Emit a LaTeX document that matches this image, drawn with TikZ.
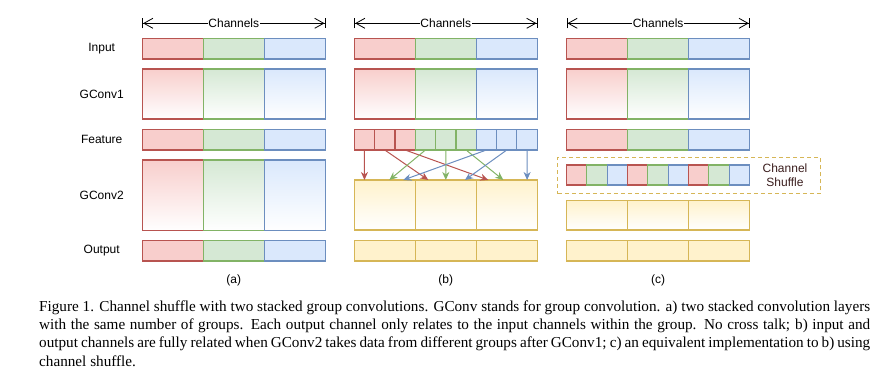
\documentclass[tikz,border=0pt]{standalone}
\usepackage{fontspec}
\setmainfont{Liberation Serif}
\setsansfont{Liberation Sans}
\usepackage{tikz}
\usetikzlibrary{positioning,arrows.meta}

\definecolor{redfill}{HTML}{F8CECC}
\definecolor{redline}{HTML}{B85450}
\definecolor{greenfill}{HTML}{D5E8D4}
\definecolor{greenline}{HTML}{82B366}
\definecolor{bluefill}{HTML}{DAE8FC}
\definecolor{blueline}{HTML}{6C8EBF}
\definecolor{yellowfill}{HTML}{FFF2CC}
\definecolor{yellowline}{HTML}{D6B656}
\definecolor{shuftext}{HTML}{3B1E1E}

\begin{document}
\begin{tikzpicture}[
    x=1pt, y=-1pt,
    cell/.style={draw=#1line, fill=#1fill, anchor=north west, minimum width=61,
        inner sep=0, outer sep=0, line width=1.1pt},
    gcell/.style={cell=#1, top color=#1fill, bottom color=white},
    dim/.style={{Bar[width=10pt]Straight Barb[length=9pt,width=10pt]}-{Straight Barb[length=9pt,width=10pt]Bar[width=10pt]}, line width=0.8pt},
    chan/.style={fill=white, inner sep=0.5pt, font=\sffamily\fontsize{12}{14}\selectfont},
    rowlab/.style={font=\sffamily\fontsize{12}{14}\selectfont},
    sub/.style={font=\sffamily\fontsize{12}{14}\selectfont},
    link/.style={draw=#1line, line width=1pt, -{Stealth[length=8pt,width=7pt,inset=2.5pt]}},
    shufbox/.style={draw=yellowline, dash pattern=on 4pt off 3pt, line width=1pt, anchor=north west,
        inner sep=0, minimum width=262.7, minimum height=36},
    shuftxt/.style={text=shuftext, align=center, font=\sffamily\fontsize{12}{14.7}\selectfont}
]
\useasboundingbox (0,0) rectangle (878,382);

% row labels
\node[rowlab] (linput) at (101.7,48.6) {Input};
\node[rowlab] (lgc1) at (101.7,94) {GConv1};
\node[rowlab] (lfeat) at (101.7,139.6) {Feature};
\node[rowlab] (lgc2) at (101.7,195.3) {GConv2};
\node[rowlab] (lout) at (101.7,250.8) {Output};

% (a) two stacked group convolutions
\begin{scope}[shift={(142.3,0)}]
    \coordinate (al) at (0,23.3); \coordinate (ar) at (183,23.3);
    \draw[dim] (al) -- node[chan] (achan) {Channels} (ar);
    \foreach \c [count=\i] in {red,green,blue} {
        \node[cell=\c, minimum height=20.7] (ain\i) at ({61*(\i-1)},38.3) {};
        \node[gcell=\c, minimum height=50] (ag1\i) at ({61*(\i-1)},69) {};
        \node[cell=\c, minimum height=20.7] (af\i) at ({61*(\i-1)},129.3) {};
        \node[gcell=\c, minimum height=70.7] (ag2\i) at ({61*(\i-1)},160) {};
        \node[cell=\c, minimum height=20.3] (aout\i) at ({61*(\i-1)},240.7) {};
    }
    \node[sub] (acap) at (91.5,280.5) {(a)};
\end{scope}

% (b) GConv2 takes data from different groups
\begin{scope}[shift={(354.3,0)}]
    \coordinate (bl) at (0,23.3); \coordinate (br) at (183,23.3);
    \draw[dim] (bl) -- node[chan] (bchan) {Channels} (br);
    \foreach \c [count=\i] in {red,green,blue} {
        \node[cell=\c, minimum height=20.7] (bin\i) at ({61*(\i-1)},38.3) {};
        \node[gcell=\c, minimum height=50] (bg1\i) at ({61*(\i-1)},69) {};
        \node[gcell=yellow, minimum height=50] (bg2\i) at ({61*(\i-1)},180) {};
        \node[cell=yellow, minimum height=20.3] (bout\i) at ({61*(\i-1)},240.7) {};
    }
    \foreach \c [count=\i] in {red,red,red,green,green,green,blue,blue,blue}
        \node[cell=\c, minimum width=20.33, minimum height=20.7] (bf\i) at ({20.33*(\i-1)},129.3) {};
    % every group feeds every GConv2 group
    \foreach \s/\t/\c in {1/10.17/red, 2/74/red, 3/134/red, 4/35/green, 5/91.5/green,
                          6/149/green, 7/49/blue, 8/110.7/blue, 9/172.8/blue} {
        \coordinate (bt\s) at (\t,180);
        \draw[link=\c] (bf\s.south) -- (bt\s);
    }
    \node[sub] (bcap) at (91.5,280.5) {(b)};
\end{scope}

% (c) channel shuffle
\begin{scope}[shift={(566.6,0)}]
    \coordinate (cl) at (0,23.3); \coordinate (cr) at (183,23.3);
    \draw[dim] (cl) -- node[chan] (cchan) {Channels} (cr);
    \foreach \c [count=\i] in {red,green,blue} {
        \node[cell=\c, minimum height=20.7] (cin\i) at ({61*(\i-1)},38.3) {};
        \node[gcell=\c, minimum height=50] (cg1\i) at ({61*(\i-1)},69) {};
        \node[cell=\c, minimum height=20.7] (cf\i) at ({61*(\i-1)},129.3) {};
        \node[gcell=yellow, minimum height=29.3] (cg2\i) at ({61*(\i-1)},200.7) {};
        \node[cell=yellow, minimum height=20.3] (cout\i) at ({61*(\i-1)},240.7) {};
    }
    \node[shufbox] (cbox) at (-9.3,157.3) {};
    \foreach \c [count=\i] in {red,green,blue,red,green,blue,red,green,blue}
        \node[cell=\c, minimum width=20.33, minimum height=20] (cs\i) at ({20.33*(\i-1)},165) {};
    \node[shuftxt] (ctxt) at (218.4,175.3) {Channel\\Shuffle};
    \node[sub] (ccap) at (91.5,280.5) {(c)};
\end{scope}

% caption
\node[anchor=north west, inner sep=0, text width=831pt, align=justify,
      font=\fontsize{15.2}{18.3}\selectfont] (caption) at (39,300.3)
    {Figure 1. Channel shuffle with two stacked group convolutions. GConv stands for group convolution. a) two stacked convolution layers\linebreak
     with the same number of groups. Each output channel only relates to the input channels within the group. No cross talk; b) input and\linebreak
     output channels are fully related when GConv2 takes data from different groups after GConv1; c) an equivalent implementation to b) using\linebreak
     channel shuffle.};
\end{tikzpicture}
\end{document}
